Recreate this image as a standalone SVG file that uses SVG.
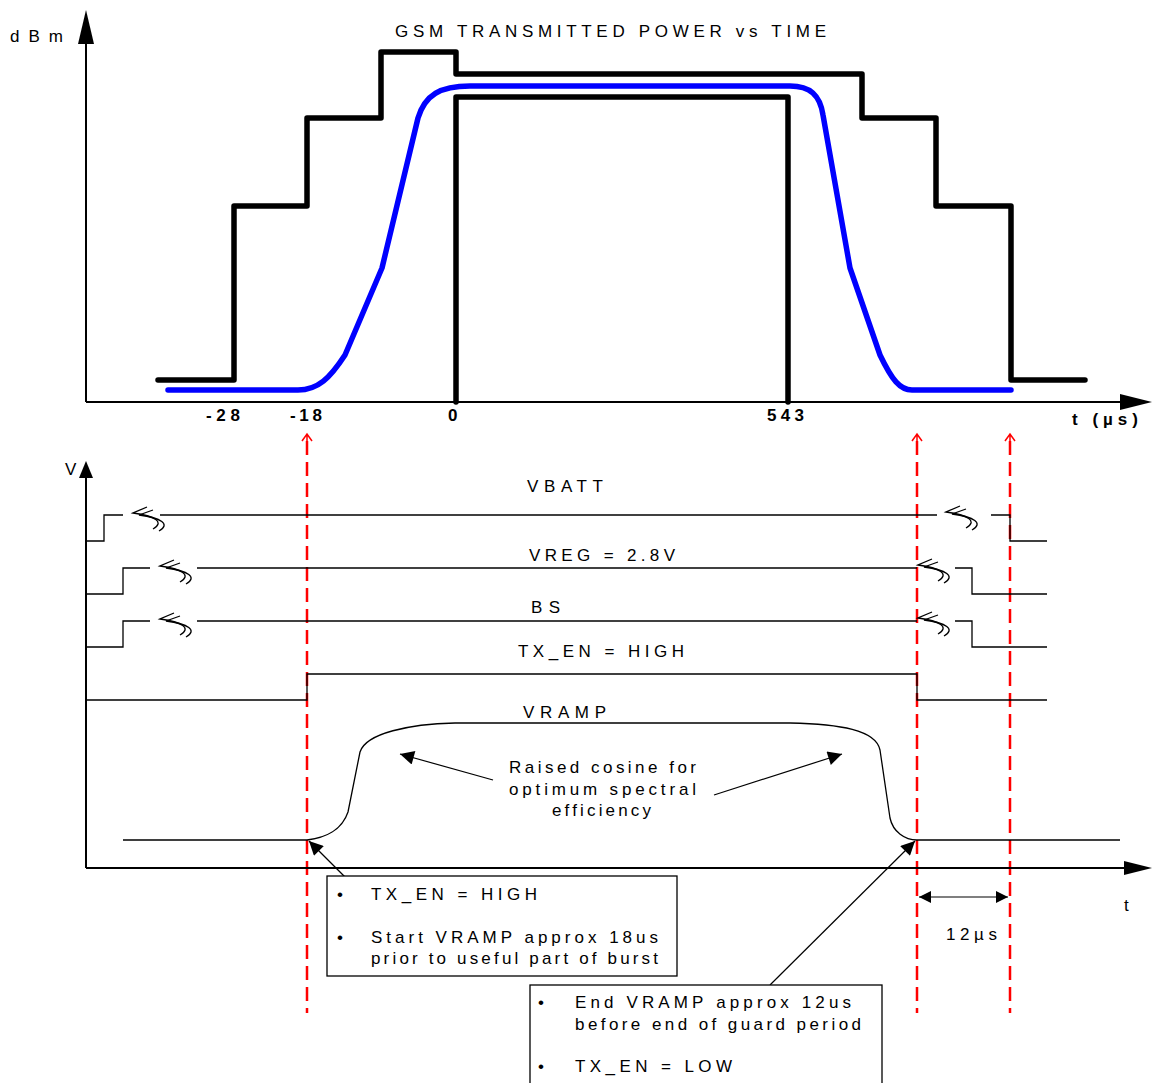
<svg xmlns="http://www.w3.org/2000/svg" width="1152" height="1083" viewBox="0 0 1152 1083">
<defs>
<style>
text{font-family:"Liberation Sans",Arial,sans-serif;fill:#000}
.t16{font-size:17px}
.b{font-weight:bold;font-size:17px}
.mask{fill:none;stroke:#000;stroke-width:5.5;stroke-linejoin:round;stroke-linecap:round}
.blue{fill:none;stroke:#0000ff;stroke-width:5.5;stroke-linejoin:round;stroke-linecap:round}
.axis{fill:none;stroke:#000;stroke-width:2}
.sig{fill:none;stroke:#000;stroke-width:1.3}
.red{fill:none;stroke:#ff0000;stroke-width:2.5;stroke-dasharray:14,7}
.redh{fill:none;stroke:#ff0000;stroke-width:1.5}
.thin{fill:none;stroke:#000;stroke-width:1.2}
.box{fill:#fff;stroke:#000;stroke-width:1.3}
</style>
<marker id="ahb" viewBox="0 0 10 10" refX="10" refY="5" markerWidth="20" markerHeight="14" markerUnits="userSpaceOnUse" orient="auto"><path d="M0,0 L10,5 L0,10 z" fill="#000"/></marker>
<marker id="ahs" viewBox="0 0 10 10" refX="10" refY="5" markerWidth="18" markerHeight="12" markerUnits="userSpaceOnUse" orient="auto-start-reverse"><path d="M0,0 L10,5 L0,10 z" fill="#000"/></marker>
<g id="brk">
<path d="M14,-7 L0,-1 C22,2 32,8 20,15" fill="none" stroke="#000" stroke-width="1.3"/>
<path d="M20,-4 L6,1 C28,4 38,10 26,17" fill="none" stroke="#000" stroke-width="1.3"/>
</g>
</defs>
<rect width="1152" height="1083" fill="#fff"/>

<g id="top-axes">
<line class="axis" x1="86" y1="402" x2="86" y2="28"/>
<path d="M78,44 L86,10 L94,44 z" fill="#000"/>
<line class="axis" x1="86" y1="402" x2="1130" y2="402"/>
<path d="M1120,394 L1152,402 L1120,410 z" fill="#000"/>
<text class="t16" x="10" y="42" textLength="53" lengthAdjust="spacing">dBm</text>
<text class="t16" x="395" y="37" textLength="431" lengthAdjust="spacing">GSM TRANSMITTED POWER vs TIME</text>
<text class="b" x="206" y="421" textLength="34" lengthAdjust="spacing">-28</text>
<text class="b" x="290" y="421" textLength="32" lengthAdjust="spacing">-18</text>
<text class="b" x="448" y="421">0</text>
<text class="b" x="767" y="421" textLength="37" lengthAdjust="spacing">543</text>
<text class="b" x="1072" y="425" textLength="66" lengthAdjust="spacing">t (µs)</text>
</g>

<g id="mask-upper">
<path class="mask" d="M158,380 H234 V206 H307 V118 H381 V52 H456 V74 H862 V118 H936 V206 H1011 V380 H1085"/>
</g>
<g id="mask-lower">
<path class="mask" d="M456,402 V97 H788 V402"/>
</g>
<g id="power-curve">
<path class="blue" d="M168,390 H298 C318,390 330,378 345,355 L382,268 L418,118 C425,95 440,86 470,86 H790 C810,86 820,95 823,115 L850,268 L880,355 C892,380 900,390 912,390 H1011"/>
</g>

<g id="markers">
<line class="red" x1="307" y1="441" x2="307" y2="1013"/>
<line class="red" x1="917" y1="441" x2="917" y2="1013"/>
<line class="red" x1="1010" y1="441" x2="1010" y2="1013"/>
<path class="redh" d="M302,441 L307,434 L312,441 M307,434 V441"/>
<path class="redh" d="M912,441 L917,434 L922,441 M917,434 V441"/>
<path class="redh" d="M1005,441 L1010,434 L1015,441 M1010,434 V441"/>
</g>

<g id="bottom-axes">
<line class="axis" x1="86" y1="868" x2="86" y2="478"/>
<path d="M79,478 L86,461 L93,478 z" fill="#000"/>
<line class="axis" x1="86" y1="868" x2="1130" y2="868"/>
<path d="M1124,861 L1152,868 L1124,875 z" fill="#000"/>
<text class="t16" x="65" y="475">V</text>
<text class="t16" x="1124" y="911">t</text>
</g>

<g id="vbatt">
<path class="sig" d="M86,541 H104 V515 H123"/>
<path class="sig" d="M160,515 H937"/>
<path class="sig" d="M991,515 H1010 V541 H1047"/>
<use href="#brk" x="133" y="514"/>
<use href="#brk" x="946" y="513"/>
<text class="t16" x="527" y="492" textLength="76" lengthAdjust="spacing">VBATT</text>
</g>
<g id="vreg">
<path class="sig" d="M86,594 H123 V568 H150"/>
<path class="sig" d="M197,568 H917"/>
<path class="sig" d="M955,568 H972 V594 H1047"/>
<use href="#brk" x="160" y="567"/>
<use href="#brk" x="918" y="566"/>
<text class="t16" x="529" y="561" textLength="146" lengthAdjust="spacing">VREG = 2.8V</text>
</g>
<g id="bs">
<path class="sig" d="M86,647 H123 V621 H150"/>
<path class="sig" d="M197,621 H917"/>
<path class="sig" d="M955,621 H972 V647 H1047"/>
<use href="#brk" x="160" y="620"/>
<use href="#brk" x="918" y="619"/>
<text class="t16" x="531" y="613" textLength="29" lengthAdjust="spacing">BS</text>
</g>
<g id="txen">
<path class="sig" d="M86,700 H307 V674 H917 V700 H1047"/>
<text class="t16" x="518" y="657" textLength="166" lengthAdjust="spacing">TX_EN = HIGH</text>
</g>
<g id="vramp">
<path class="sig" d="M123,840 H307 C325,838 342,830 348,812 L360,752 C366,733 410,724 455,723 H790 C840,724 876,730 880,750 L890,818 C893,832 905,840 917,840 H1120"/>
<text class="t16" x="523" y="718" textLength="83" lengthAdjust="spacing">VRAMP</text>
</g>
<g id="cosine-note">
<text class="t16" x="509" y="773" textLength="187" lengthAdjust="spacing">Raised cosine for</text>
<text class="t16" x="509" y="795" textLength="187" lengthAdjust="spacing">optimum spectral</text>
<text class="t16" x="552" y="816" textLength="99" lengthAdjust="spacing">efficiency</text>
</g>

<g id="connectors">
<line class="thin" x1="493" y1="780" x2="400" y2="754" marker-end="url(#ahb)"/>
<line class="thin" x1="714" y1="795" x2="842" y2="754" marker-end="url(#ahb)"/>
<line class="thin" x1="345" y1="877" x2="309" y2="841" marker-end="url(#ahb)"/>
<line class="thin" x1="770" y1="985" x2="915" y2="841" marker-end="url(#ahb)"/>
<line class="thin" x1="919" y1="897" x2="1008" y2="897" marker-start="url(#ahs)" marker-end="url(#ahs)"/>
</g>
<text class="t16" x="946" y="940" textLength="51" lengthAdjust="spacing">12µs</text>

<g id="box1">
<rect class="box" x="327" y="876" width="350" height="100"/>
<text class="t16" x="337" y="900">•</text>
<text class="t16" x="371" y="900" textLength="166" lengthAdjust="spacing">TX_EN = HIGH</text>
<text class="t16" x="337" y="943">•</text>
<text class="t16" x="371" y="943" textLength="287" lengthAdjust="spacing">Start VRAMP approx 18us</text>
<text class="t16" x="371" y="964" textLength="287" lengthAdjust="spacing">prior to useful part of burst</text>
</g>
<g id="box2">
<rect class="box" x="530" y="985" width="352" height="110"/>
<text class="t16" x="538" y="1008">•</text>
<text class="t16" x="575" y="1008" textLength="276" lengthAdjust="spacing">End VRAMP approx 12us</text>
<text class="t16" x="575" y="1030" textLength="286" lengthAdjust="spacing">before end of guard period</text>
<text class="t16" x="538" y="1072">•</text>
<text class="t16" x="575" y="1072" textLength="157" lengthAdjust="spacing">TX_EN = LOW</text>
</g>
</svg>
